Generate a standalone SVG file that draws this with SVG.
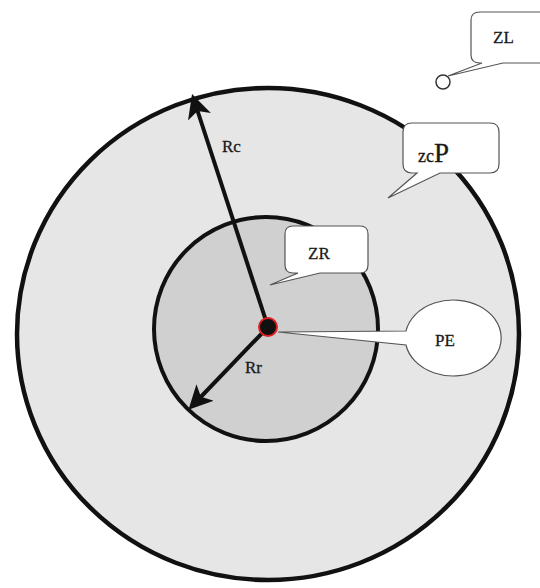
<svg xmlns="http://www.w3.org/2000/svg" width="540" height="588" viewBox="0 0 540 588">
<style>
.t{font-family:"Liberation Serif","Times New Roman",serif;fill:#1a1a1a;stroke:#1a1a1a;stroke-width:0.3;}
.bub{fill:#fff;stroke:#555;stroke-width:1.2;}
.ar{stroke:#111;stroke-width:4;fill:none;}
</style>
<defs>
<marker id="ah" markerWidth="6" markerHeight="6" refX="4" refY="3" orient="auto" markerUnits="strokeWidth">
<path d="M0,0 L6,3 L0,6 L1.5,3 Z" fill="#111"/>
</marker>
</defs>
<rect width="540" height="588" fill="#fff"/>
<g id="outer"><ellipse cx="268" cy="334" rx="251" ry="246" fill="#e6e6e6" stroke="#111" stroke-width="4.5"/></g>
<g id="inner"><circle cx="266" cy="329" r="112" fill="#d0d0d0" stroke="#111" stroke-width="4"/></g>
<g id="connectors">
<line class="ar" x1="268" y1="327" x2="194.5" y2="101.5" marker-end="url(#ah)"/>
<line class="ar" x1="268" y1="327" x2="194" y2="404" marker-end="url(#ah)"/>
</g>
<g id="Rc"><text class="t" x="222" y="152" font-size="17">Rc</text></g>
<g id="Rr"><text class="t" x="245" y="373" font-size="17">Rr</text></g>
<g id="ZL">
<circle cx="443" cy="82" r="7" fill="#fff" stroke="#333" stroke-width="1.5"/>
<path class="bub" d="M484,12 H545 V63 H503 L448,76 L482,63 H480 Q471,63 471,55 V20 Q471,12 480,12 Z"/>
<text class="t" x="493" y="43" font-size="17">ZL</text>
</g>
<g id="ZCP">
<path class="bub" d="M412,123 H490 Q499,123 499,132 V164 Q499,173 490,173 H440 L388,198 L417,173 H412 Q403,173 403,164 V132 Q403,123 412,123 Z"/>
<text class="t" x="418" y="162" font-size="18">zc<tspan font-size="27">P</tspan></text>
</g>
<g id="ZR">
<path class="bub" d="M293,226 H360 Q368,226 368,234 V265 Q368,273 360,273 H320 L270,285 L298,273 H293 Q285,273 285,265 V234 Q285,226 293,226 Z"/>
<text class="t" x="308" y="259" font-size="17">ZR</text>
</g>
<g id="PE">
<path class="bub" d="M406,331 A48,38 0 1,1 406,345 L278,332 Z"/>
<text class="t" x="435" y="346" font-size="17">PE</text>
</g>
<g id="center"><circle cx="268" cy="327" r="9" fill="#111" stroke="#e02020" stroke-width="2"/></g>
</svg>
